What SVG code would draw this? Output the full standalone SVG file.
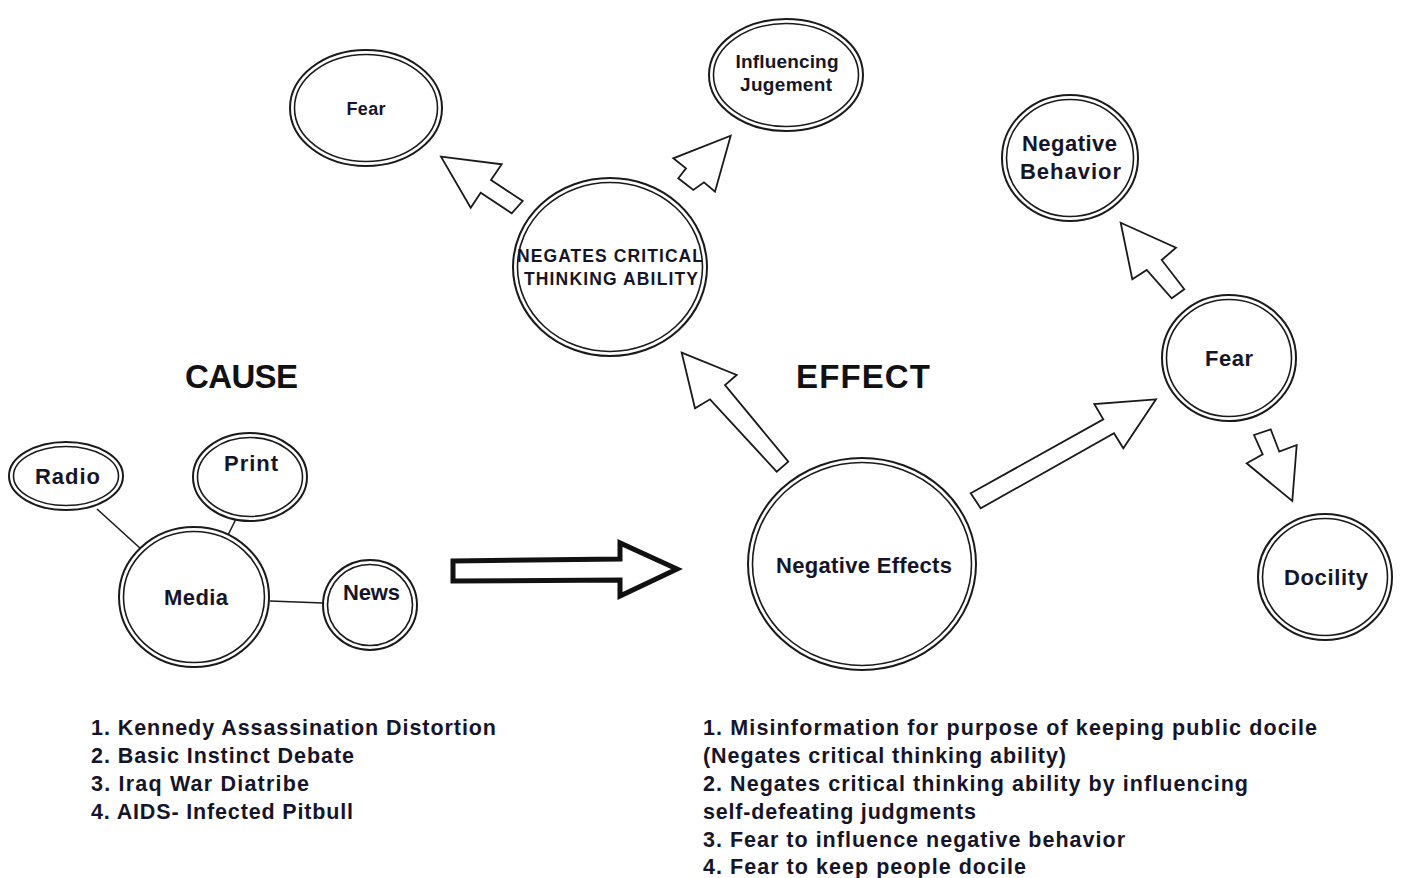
<svg xmlns="http://www.w3.org/2000/svg" width="1403" height="878" viewBox="0 0 1403 878">
<style>
.o{fill:#fff;stroke:#1a1a1a;stroke-width:2}
.i{fill:none;stroke:#1a1a1a;stroke-width:1.6}
.t{font-family:"Liberation Sans",Arial,sans-serif;font-weight:bold;fill:#15152a;text-anchor:middle}
.l{font-family:"Liberation Sans",Arial,sans-serif;font-weight:bold;fill:#15152a;font-size:21.5px}
.h{font-family:"Liberation Sans",Arial,sans-serif;font-weight:bold;fill:#111;font-size:33px;text-anchor:middle}
.ba{fill:#fff;stroke:#1a1a1a;stroke-width:1.8;stroke-linejoin:miter}
.ln{stroke:#1a1a1a;stroke-width:1.6;fill:none}
</style>
<rect width="1403" height="878" fill="#fff"/>
<g id="connectors">
<line class="ln" x1="97" y1="509" x2="141" y2="549"/>
<line class="ln" x1="236" y1="519" x2="228" y2="535"/>
<line class="ln" x1="270" y1="601" x2="323" y2="603"/>
<polygon class="ba" points="441,156.7 501.7,164.3 491,180 522.7,201 511.7,213.3 480.7,192.7 470.7,207.7"/>
<polygon class="ba" points="730.7,135.7 715,191.7 704,182.3 693.3,190 678.3,178.3 686,168.3 673.3,158.3"/>
<polygon class="ba" points="681.7,352.7 736.7,375 725,385 788.3,461.7 776.7,471.7 710,399.3 695,408.3"/>
<polygon class="ba" points="1156,399.3 1094.3,404 1103.3,419.3 970.7,493.3 980.7,508.3 1114,433.3 1123.3,448.3"/>
<polygon class="ba" points="1120.7,222.7 1176,247.7 1161.7,260 1184.3,289.3 1171.7,298.3 1146.7,270 1132.3,279.3"/>
<polygon class="ba" points="1254,435 1270.7,429.3 1279.3,451.7 1296.7,445 1292.3,501 1246.7,463.3 1262.7,454.3"/>
<polygon points="453,561 620,559 620,543 677,569 620,596 620,580 453,581" fill="#fff" stroke="#111" stroke-width="5" stroke-linejoin="miter"/>
</g>
<g id="fear-top">
<ellipse class="o" cx="366" cy="108" rx="76" ry="58"/><ellipse class="i" cx="366" cy="108" rx="71.5" ry="53.5"/>
<text class="t" x="366" y="114.5" font-size="18" textLength="39">Fear</text>
</g>
<g id="influencing">
<ellipse class="o" cx="786" cy="75" rx="77" ry="56"/><ellipse class="i" cx="786" cy="75" rx="72.5" ry="51.5"/>
<text class="t" x="787" y="67.5" font-size="19" textLength="103">Influencing</text>
<text class="t" x="786" y="90.5" font-size="19" textLength="92">Jugement</text>
</g>
<g id="negates">
<ellipse class="o" cx="610" cy="267" rx="97" ry="89"/><ellipse class="i" cx="610" cy="267" rx="92.5" ry="84.5"/>
<text class="t" x="610" y="261.5" font-size="17.5" textLength="186">NEGATES CRITICAL</text>
<text class="t" x="611" y="284.5" font-size="17.5" textLength="174">THINKING ABILITY</text>
</g>
<g id="negative-behavior">
<ellipse class="o" cx="1070" cy="158" rx="68" ry="63"/><ellipse class="i" cx="1070" cy="158" rx="63.5" ry="58.5"/>
<text class="t" x="1069.5" y="151" font-size="22" textLength="95">Negative</text>
<text class="t" x="1070.5" y="179" font-size="22" textLength="101">Behavior</text>
</g>
<g id="fear-right">
<ellipse class="o" cx="1229" cy="358" rx="67" ry="63"/><ellipse class="i" cx="1229" cy="358" rx="62.5" ry="58.5"/>
<text class="t" x="1229" y="366" font-size="22" textLength="48">Fear</text>
</g>
<g id="docility">
<ellipse class="o" cx="1325" cy="577" rx="67" ry="63"/><ellipse class="i" cx="1325" cy="577" rx="62.5" ry="58.5"/>
<text class="t" x="1326" y="585" font-size="22" textLength="84">Docility</text>
</g>
<g id="negative-effects">
<ellipse class="o" cx="862" cy="564" rx="114" ry="106"/><ellipse class="i" cx="862" cy="564" rx="109.5" ry="101.5"/>
<text class="t" x="864" y="573" font-size="22" textLength="176">Negative Effects</text>
</g>
<g id="media">
<ellipse class="o" cx="194" cy="597" rx="75" ry="70"/><ellipse class="i" cx="194" cy="597" rx="70.5" ry="65.5"/>
<text class="t" x="196" y="605" font-size="22" textLength="64">Media</text>
</g>
<g id="radio">
<ellipse class="o" cx="66" cy="476" rx="57" ry="34"/><ellipse class="i" cx="66" cy="476" rx="52.5" ry="29.5"/>
<text class="t" x="67.5" y="484" font-size="22" textLength="65">Radio</text>
</g>
<g id="print">
<ellipse class="o" cx="250" cy="477" rx="57" ry="44"/><ellipse class="i" cx="250" cy="477" rx="52.5" ry="39.5"/>
<text class="t" x="251" y="471" font-size="22" textLength="54">Print</text>
</g>
<g id="news">
<ellipse class="o" cx="370" cy="605" rx="47" ry="45"/><ellipse class="i" cx="370" cy="605" rx="42.5" ry="40.5"/>
<text class="t" x="371.5" y="600" font-size="22" textLength="57">News</text>
</g>
<g id="headings">
<text class="h" x="241.5" y="388" textLength="113">CAUSE</text>
<text class="h" x="863" y="388" textLength="134">EFFECT</text>
</g>
<g id="cause-list">
<text class="l" x="91" y="734.5" textLength="405">1. Kennedy Assassination Distortion</text>
<text class="l" x="91" y="762.5" textLength="263">2. Basic Instinct Debate</text>
<text class="l" x="91" y="790.5" textLength="218">3. Iraq War Diatribe</text>
<text class="l" x="91" y="818.5" textLength="262">4. AIDS- Infected Pitbull</text>
</g>
<g id="effect-list">
<text class="l" x="703" y="734.5" textLength="614">1. Misinformation for purpose of keeping public docile</text>
<text class="l" x="703" y="762.5" textLength="363">(Negates critical thinking ability)</text>
<text class="l" x="703" y="790.5" textLength="545">2. Negates critical thinking ability by influencing</text>
<text class="l" x="703" y="818.5" textLength="273">self-defeating judgments</text>
<text class="l" x="703" y="846.5" textLength="422">3. Fear to influence negative behavior</text>
<text class="l" x="703" y="873.5" textLength="323">4. Fear to keep people docile</text>
</g>
</svg>
